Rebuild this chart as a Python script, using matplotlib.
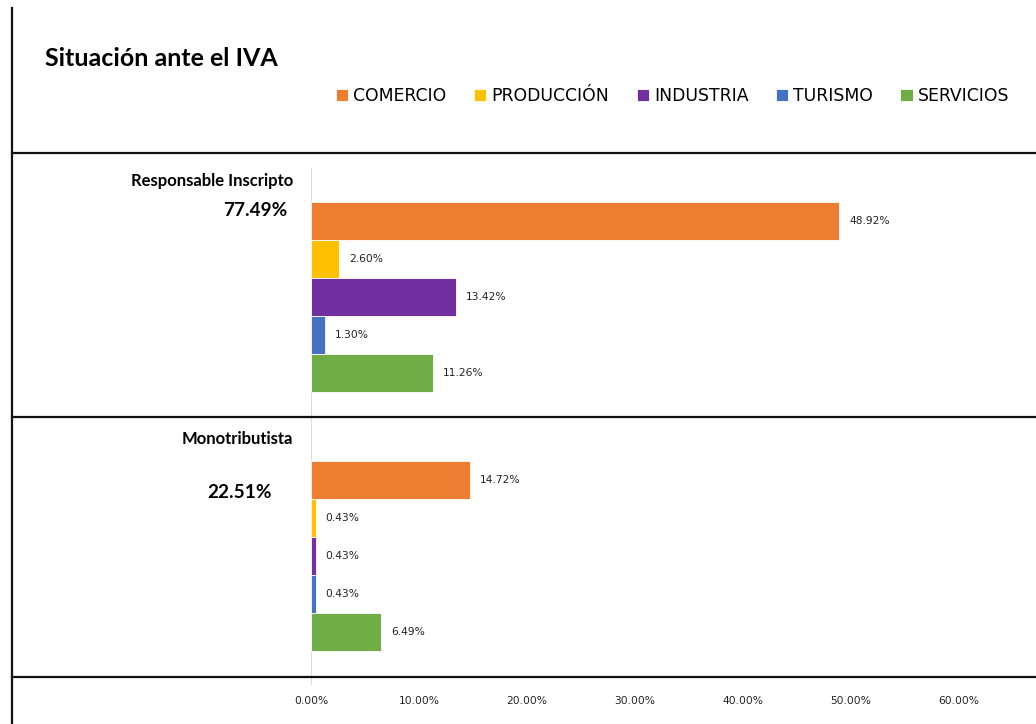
import matplotlib
matplotlib.use("Agg")
import matplotlib.pyplot as plt
from matplotlib.lines import Line2D
from matplotlib.ticker import FuncFormatter
import numpy as np

# data
groups = ["Responsable Inscripto", "Monotributista"]
group_totals = ["77.49%", "22.51%"]
sectors = ["COMERCIO", "PRODUCCIÓN", "INDUSTRIA", "TURISMO", "SERVICIOS"]
responsable = [48.92, 2.60, 13.42, 1.30, 11.26]
monotributo = [14.72, 0.43, 0.43, 0.43, 6.49]
colors = ["#ED7D31", "#FFC000", "#7030A0", "#4472C4", "#70AD47"]
x_ticks = [0, 10, 20, 30, 40, 50, 60]

values = np.array([responsable, monotributo])

W, H = 1036, 724
fig = plt.figure(figsize=(W / 100, H / 100), dpi=100)
fig.patch.set_facecolor("white")

# plot area in pixels
left_px, right_px, top_px, bot_px = 311, 1036, 168, 685
ax = fig.add_axes([left_px / W, 1 - bot_px / H,
                   (right_px - left_px) / W, (bot_px - top_px) / H])

bar_h = 0.147
centers = np.arange(len(groups)) + 0.5
for i, (name, col) in enumerate(zip(sectors, colors)):
    ys = centers + (i - 2) * bar_h
    bars = ax.barh(ys, values[:, i], height=bar_h, color=col,
                   edgecolor="#ffffff", linewidth=0.6, label=name)
    for b, v in zip(bars, values[:, i]):
        ax.annotate(f"{v:.2f}%", (v, b.get_y() + b.get_height() / 2),
                    xytext=(10, 0), textcoords="offset pixels",
                    va="center", ha="left", fontsize=7.7, color="#222222")

ax.set_ylim(len(groups), 0)
ax.set_xlim(0, (right_px - left_px) / 10.8)
ax.set_xticks(x_ticks)
ax.xaxis.set_major_formatter(FuncFormatter(lambda v, p: f"{v:.2f}%"))
ax.tick_params(axis="x", length=0, pad=8, labelsize=7.7, labelcolor="#222222")
ax.set_yticks([])
for s in ax.spines.values():
    s.set_visible(False)
ax.axvline(0, color="#D9D9D9", linewidth=1.3, zorder=0)

# category labels on the left
for c, name in zip(centers, groups):
    ax.annotate(name, (0, c - 0.5), xytext=(-18, -13), textcoords="offset pixels",
                ha="right", va="center", fontsize=12, fontweight="bold",
                family="Lato", annotation_clip=False)
fig.text(287 / W, 1 - 211 / H, group_totals[0], ha="right", va="center",
         fontsize=13.7, fontweight="bold", family="Lato")
fig.text(272 / W, 1 - 493 / H, group_totals[1], ha="right", va="center",
         fontsize=13.7, fontweight="bold", family="Lato")

fig.text(45 / W, 1 - 58 / H, "Situación ante el IVA", ha="left", va="center",
         fontsize=18, fontweight="bold", family="Lato")

handles, labels = ax.get_legend_handles_labels()
fig.legend(handles, labels, loc="center left", bbox_to_anchor=(336 / W, 1 - 96 / H),
           ncol=5, frameon=False, fontsize=12.4, handlelength=0.7,
           handleheight=0.7, handletextpad=0.3, columnspacing=1.6,
           borderpad=0, borderaxespad=0)

# frame lines
lw = 1.6
fig.add_artist(Line2D([12 / W, 12 / W], [0, 1 - 8 / H], color="#111111", lw=lw))
for y in [153, 417, 677]:
    fig.add_artist(Line2D([12 / W, 1], [1 - y / H, 1 - y / H], color="#111111", lw=lw))

fig.savefig("out.png", dpi=100, facecolor="white")
